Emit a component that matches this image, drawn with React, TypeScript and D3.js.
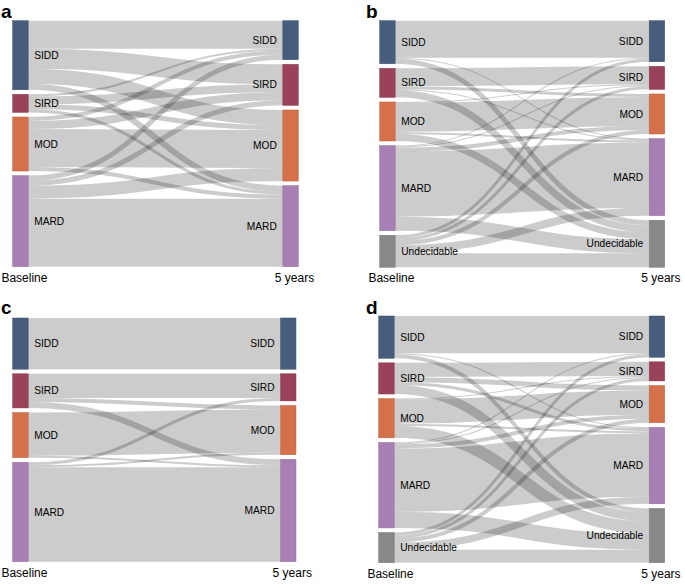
import React from "react";
import * as d3 from "d3";

// group labels
const groups4 = ["SIDD", "SIRD", "MOD", "MARD"];
const groups5 = ["SIDD", "SIRD", "MOD", "MARD", "Undecidable"];
const columnLabels = ["Baseline", "5 years"];
const panelLetters = ["a", "b", "c", "d"];

// transitions baseline (rows) -> 5 years (cols)
const flowsA = [
  [28, 20, 15, 6],
  [2, 8, 5, 3],
  [4, 8, 38, 4],
  [5, 5, 13, 68],
];
const flowsB = [
  [37, 0, 0, 1, 5],
  [0, 18, 3, 1, 7],
  [0, 1, 29, 2, 7],
  [1, 1, 4, 65, 14],
  [3, 3, 4, 8, 14],
];
const flowsC = [
  [51, 0, 0, 0],
  [0, 24, 4, 6],
  [0, 0, 43, 2],
  [0, 3, 2, 94],
];
const flowsD = [
  [37, 0, 0, 1, 4],
  [0, 14, 5, 3, 9],
  [0, 1, 24, 2, 12],
  [1, 1, 4, 63, 16],
  [3, 3, 4, 7, 13],
];

const nodeColors: Record<string, string> = {
  SIDD: "#475d7d",
  SIRD: "#99425a",
  MOD: "#d4714a",
  MARD: "#a77fb4",
  Undecidable: "#888888",
};

const panels = [
  { letter: panelLetters[0], groups: groups4, flows: flowsA, x0: 12.7, x1: 298.3, y0: 20.7, y1: 266.7, lx: 1, ly: 17.5 },
  { letter: panelLetters[1], groups: groups5, flows: flowsB, x0: 379.7, x1: 664.7, y0: 20.7, y1: 267.3, lx: 366, ly: 17.5 },
  { letter: panelLetters[2], groups: groups4, flows: flowsC, x0: 12.7, x1: 296, y0: 318, y1: 561.7, lx: 1, ly: 313.5 },
  { letter: panelLetters[3], groups: groups5, flows: flowsD, x0: 378.7, x1: 664.7, y0: 316, y1: 562.7, lx: 366, ly: 313.5 },
];

const FONT = "'Liberation Sans', Arial, Helvetica, sans-serif";
const nodeWidth = 15.5;
const nodePad = 4.6;

function Sankey({ p }: { p: (typeof panels)[number] }) {
  const n = p.groups.length;
  const outTotals = p.flows.map((r) => d3.sum(r));
  const inTotals = p.groups.map((_, j) => d3.sum(p.flows, (r) => r[j]));
  const maxTotal = Math.max(d3.sum(outTotals), d3.sum(inTotals));
  const h = p.y1 - p.y0;
  const ky = d3.scaleLinear().domain([0, maxTotal]).range([0, h - nodePad * (n - 1)]);

  const stack = (totals: number[]) => {
    const pad = (h - ky(d3.sum(totals))) / (n - 1);
    let y = p.y0;
    return totals.map((t) => {
      const node = { y0: y, y1: y + ky(t) };
      y = node.y1 + pad;
      return node;
    });
  };
  const left = stack(outTotals);
  const right = stack(inTotals);

  const lxR = p.x0 + nodeWidth;
  const rxL = p.x1 - nodeWidth;

  // link offsets: at source sorted by target order, at target by source order
  const srcOff = left.map((nd) => nd.y0);
  const tgtOff = right.map((nd) => nd.y0);
  const links: { d: string; w: number; key: string }[] = [];
  const tgtStart: number[][] = p.groups.map(() => []);
  for (let j = 0; j < n; j++) {
    for (let i = 0; i < n; i++) {
      tgtStart[i][j] = tgtOff[j];
      tgtOff[j] += ky(p.flows[i][j]);
    }
  }
  const gen = d3.linkHorizontal<any, [number, number]>()
    .source((d: any) => d[0])
    .target((d: any) => d[1]);
  for (let i = 0; i < n; i++) {
    for (let j = 0; j < n; j++) {
      const v = p.flows[i][j];
      if (!v) continue;
      const w = ky(v);
      const ys = srcOff[i] + w / 2;
      srcOff[i] += w;
      const yt = tgtStart[i][j] + w / 2;
      links.push({ d: gen([[lxR, ys], [rxL, yt]] as any) as string, w, key: `${i}-${j}` });
    }
  }

  return (
    <g>
      <text x={p.lx} y={p.ly} fontFamily={FONT} fontWeight="bold" fontSize={19}>
        {p.letter}
      </text>
      <g fill="none" stroke="#000" strokeOpacity={0.2}>
        {links.map((l) => (
          <path key={l.key} d={l.d} strokeWidth={l.w} />
        ))}
      </g>
      {p.groups.map((g, i) => (
        <g key={"l" + g}>
          <rect
            x={p.x0}
            y={left[i].y0}
            width={nodeWidth}
            height={left[i].y1 - left[i].y0}
            fill={nodeColors[g]}
            stroke={d3.color(nodeColors[g])!.darker(0.4).toString()}
            strokeWidth={0.5}
          />
          <text x={lxR + 6} y={(left[i].y0 + left[i].y1) / 2} dy="0.35em" fontFamily={FONT} fontSize={10.2}>
            {g}
          </text>
          <rect
            x={rxL}
            y={right[i].y0}
            width={nodeWidth}
            height={right[i].y1 - right[i].y0}
            fill={nodeColors[g]}
            stroke={d3.color(nodeColors[g])!.darker(0.4).toString()}
            strokeWidth={0.5}
          />
          <text
            x={rxL - 6}
            y={(right[i].y0 + right[i].y1) / 2}
            dy="0.35em"
            textAnchor="end"
            fontFamily={FONT}
            fontSize={10.2}
          >
            {g}
          </text>
        </g>
      ))}
      <text x={p.x0 + nodeWidth / 2 + 4} y={p.y1 + 15} textAnchor="middle" fontFamily={FONT} fontSize={12}>
        {columnLabels[0]}
      </text>
      <text x={p.x1 - nodeWidth / 2 + 4} y={p.y1 + 15} textAnchor="middle" fontFamily={FONT} fontSize={12}>
        {columnLabels[1]}
      </text>
    </g>
  );
}

export default function App() {
  return (
    <svg
      width={685}
      height={586}
      viewBox="0 0 685 586"
      style={{ position: "absolute", left: 0, top: 0, background: "#fff" }}
    >
      {panels.map((p) => (
        <Sankey key={p.letter} p={p} />
      ))}
    </svg>
  );
}
